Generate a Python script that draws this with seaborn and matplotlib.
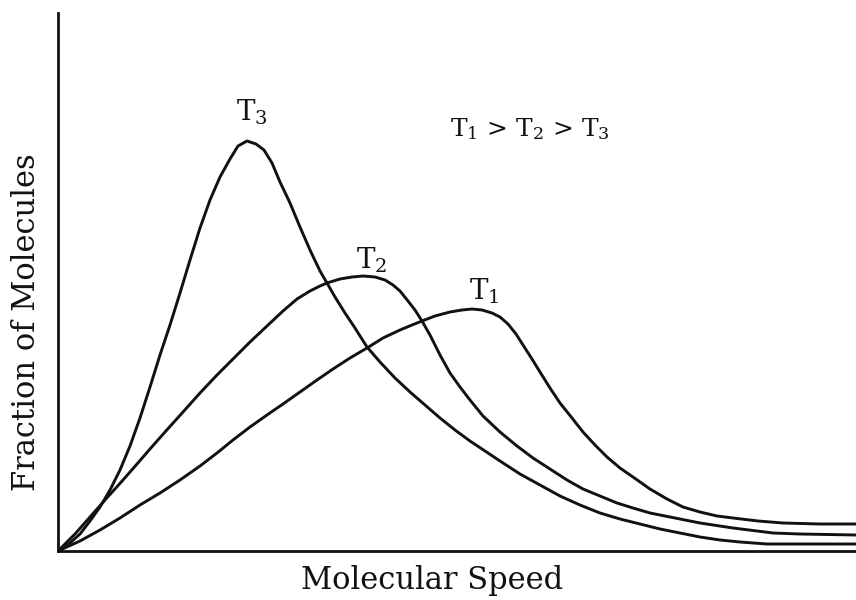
import matplotlib
matplotlib.use('Agg')
import matplotlib.pyplot as plt
import seaborn as sns

# curve points (speed, fraction), arbitrary units
speed_t3 = [0, 12, 22, 32, 42, 52, 62, 72, 82, 92, 102, 112, 122, 132, 142, 152, 162, 172,
            180, 189, 198, 206, 214, 222, 232, 242, 252, 262, 269, 277, 287, 297, 309,
            322, 337, 352, 367, 382, 397, 412, 427, 442, 462, 482, 502, 522, 542, 562,
            582, 602, 622, 642, 662, 682, 709, 742, 798]
frac_t3 = [0, 8, 17, 30, 44, 61, 81, 105, 133, 164, 196, 226, 258, 291, 323, 351, 374, 392,
           405, 410, 407, 401, 388, 369, 348, 324, 301, 280, 268, 254, 238, 223, 204,
           189, 173, 159, 146, 133, 121, 110, 100, 90, 77, 66, 55, 46, 38, 32,
           27, 22, 18, 14, 11, 9, 7, 7, 7]

speed_t2 = [0, 17, 32, 47, 65, 79, 92, 107, 125, 142, 159, 175, 192, 209, 225, 239, 252,
            262, 269, 282, 294, 305, 317, 327, 335, 342, 350, 357, 364, 372, 382, 392,
            402, 412, 425, 442, 459, 475, 492, 509, 525, 542, 559, 575, 592, 617, 642,
            675, 715, 742, 798]
frac_t2 = [0, 17, 34, 51, 71, 87, 102, 119, 139, 158, 176, 192, 209, 225, 240, 252, 260,
           265, 268, 272, 274, 275, 274, 271, 266, 260, 250, 241, 230, 216, 196, 178,
           164, 151, 135, 119, 105, 93, 82, 71, 62, 55, 48, 43, 38, 33, 28,
           23, 18, 17, 16]

speed_t1 = [0, 22, 42, 62, 82, 102, 122, 142, 159, 175, 192, 209, 225, 242, 259, 275, 292,
            309, 325, 342, 354, 364, 377, 392, 404, 414, 424, 434, 442, 450, 458, 465,
            474, 482, 492, 502, 514, 525, 537, 549, 562, 575, 592, 609, 625, 642, 659,
            675, 700, 725, 762, 798]
frac_t1 = [0, 10, 21, 33, 46, 58, 71, 85, 98, 111, 124, 136, 147, 159, 171, 182, 193,
           203, 213, 221, 226, 230, 235, 239, 241, 242, 241, 238, 234, 227, 217, 206,
           192, 179, 163, 148, 133, 119, 106, 94, 83, 74, 62, 52, 44, 39, 35,
           33, 30, 28, 27, 27]

curves = [(speed_t1, frac_t1), (speed_t2, frac_t2), (speed_t3, frac_t3)]
labels = ['T$_1$', 'T$_2$', 'T$_3$']

sns.set_style('white')
plt.rcParams['font.family'] = ['DejaVu Serif']
plt.rcParams['mathtext.fontset'] = 'dejavuserif'

ink = '#111111'
fig = plt.figure(figsize=(8.56, 6), dpi=100)
ax = fig.add_axes([58 / 856, 49 / 600, 798 / 856, 538 / 600])

for x, y in curves:
    sns.lineplot(x=x, y=y, color=ink, linewidth=2.1, sort=False,
                 estimator=None, ax=ax)

ax.set_xlim(0, 798)
ax.set_ylim(0, 538)
ax.set_xticks([])
ax.set_yticks([])
sns.despine(ax=ax)
for side in ['left', 'bottom']:
    ax.spines[side].set_color(ink)
    ax.spines[side].set_linewidth(2)

# curve labels
ax.text(194, 439, labels[2], fontsize=20, color=ink, ha='center', va='center')
ax.text(314, 291, labels[1], fontsize=20, color=ink, ha='center', va='center')
ax.text(426, 260, labels[0], fontsize=20, color=ink, ha='center', va='center')
ax.text(472, 422, 'T$_1$ > T$_2$ > T$_3$', fontsize=18, color=ink,
        ha='center', va='center')

fig.text(27 / 856, 1 - 322 / 600, 'Fraction of Molecules', rotation=90,
         fontsize=22, color=ink, ha='center', va='center')
fig.text(432 / 856, 1 - 580 / 600, 'Molecular Speed', fontsize=22, color=ink,
         ha='center', va='center')

fig.savefig('out.png', dpi=100)
